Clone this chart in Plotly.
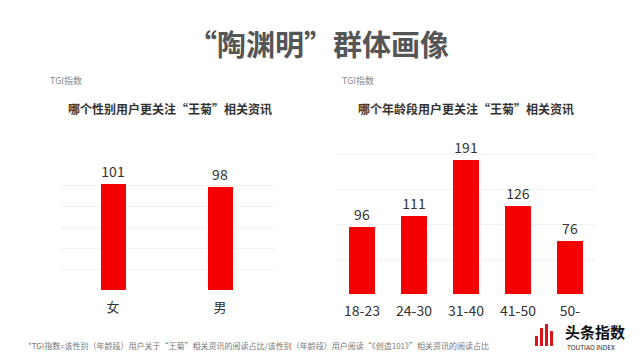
import plotly.graph_objects as go

# ---- data ----
gender_cats = ["女", "男"]
gender_tgi = [101, 98]
age_cats = ["18-23", "24-30", "31-40", "41-50", "50-"]
age_tgi = [96, 111, 191, 126, 76]

title_text = "“陶渊明”群体画像"
left_sub = "哪个性别用户更关注“王菊”相关资讯"
right_sub = "哪个年龄段用户更关注“王菊”相关资讯"
y_label = "TGI指数"
footnote = "*TGI指数=该性别（年龄段）用户关于“王菊”相关资讯的阅读占比/该性别（年龄段）用户阅读“《创造101》”相关资讯的阅读占比"

# page has an 8px body margin; figure sized so it fits the 640x360 window
OFF = 8
W, H = 640 - 2 * OFF, 360 - 2 * OFF
FONT = "Noto Sans CJK SC"
RED = "#f50000"

def px(x):
    return (x - OFF) / W

def py(y):
    return 1 - (y - OFF) / H

fig = go.Figure()
fig.add_trace(go.Bar(
    x=gender_cats, y=gender_tgi, width=0.225, marker=dict(color=RED, line=dict(width=0)),
    text=[str(v) for v in gender_tgi], textposition="outside", cliponaxis=False,
    textfont=dict(size=14, color="#333333", family=FONT),
    xaxis="x", yaxis="y", showlegend=False, hoverinfo="skip"))
fig.add_trace(go.Bar(
    x=age_cats, y=age_tgi, width=0.5, marker=dict(color=RED, line=dict(width=0)),
    text=[str(v) for v in age_tgi], textposition="outside", cliponaxis=False,
    textfont=dict(size=14, color="#333333", family=FONT),
    xaxis="x2", yaxis="y2", showlegend=False, hoverinfo="skip"))

grid = "#f2f2f2"
fig.update_layout(
    width=W, height=H,
    margin=dict(l=0, r=0, t=0, b=0),
    paper_bgcolor="white", plot_bgcolor="white",
    font=dict(family=FONT, color="#333333"),
    xaxis=dict(domain=[px(59.5), px(273.5)], showgrid=False, zeroline=False,
               showline=False, ticks="", ticklabelstandoff=8,
               tickfont=dict(size=13, color="#333333", family=FONT)),
    yaxis=dict(domain=[py(290), py(164)], range=[0, 120], dtick=20,
               showgrid=True, gridcolor=grid, gridwidth=1, zeroline=False,
               showticklabels=False, showline=False),
    xaxis2=dict(domain=[px(336), px(596)], showgrid=False, zeroline=False,
                showline=False, ticks="", ticklabelstandoff=7,
                tickfont=dict(size=14, color="#333333", family=FONT), anchor="y2"),
    yaxis2=dict(domain=[py(294), py(119)], range=[0, 250], dtick=50,
                showgrid=True, gridcolor=grid, gridwidth=1, zeroline=False,
                showticklabels=False, showline=False, anchor="x2"),
    bargap=0,
)

ann = []
ann.append(dict(text="<b>" + title_text + "</b>", x=px(318), y=py(43), xref="paper", yref="paper",
                showarrow=False, xanchor="center", yanchor="middle",
                font=dict(size=29, color="#555555", family=FONT)))
for xl in (48, 340):
    ann.append(dict(text=y_label, x=px(xl), y=py(80), xref="paper", yref="paper",
                    showarrow=False, xanchor="left", yanchor="middle",
                    font=dict(size=9, color="#888888", family=FONT)))
ann.append(dict(text="<b>" + left_sub + "</b>", x=px(170), y=py(108), xref="paper", yref="paper",
                showarrow=False, xanchor="center", yanchor="middle",
                font=dict(size=12, color="#333333", family=FONT)))
ann.append(dict(text="<b>" + right_sub + "</b>", x=px(466), y=py(108), xref="paper", yref="paper",
                showarrow=False, xanchor="center", yanchor="middle",
                font=dict(size=12, color="#333333", family=FONT)))
ann.append(dict(text=footnote, x=px(26), y=py(345), xref="paper", yref="paper",
                showarrow=False, xanchor="left", yanchor="middle",
                font=dict(size=8, color="#777777", family=FONT)))
ann.append(dict(text="<b>头条指数</b>", x=px(564), y=py(331), xref="paper", yref="paper",
                showarrow=False, xanchor="left", yanchor="middle", borderpad=0,
                font=dict(size=15, color="#111111", family=FONT)))
ann.append(dict(text="TOUTIAO INDEX", x=px(566), y=py(347), xref="paper", yref="paper",
                showarrow=False, xanchor="left", yanchor="middle", borderpad=0,
                font=dict(size=6.5, color="#222222", family=FONT)))
fig.update_layout(annotations=ann)

# decorative logo bars
logo = [(535, 336), (540, 328), (545, 324), (550, 331)]
shapes = []
for x0, ytop in logo:
    shapes.append(dict(type="rect", xref="paper", yref="paper",
                       x0=px(x0), x1=px(x0 + 3), y0=py(346), y1=py(ytop),
                       fillcolor="#d9161c", line=dict(width=0)))
fig.update_layout(shapes=shapes)

fig.write_html("out.html")
